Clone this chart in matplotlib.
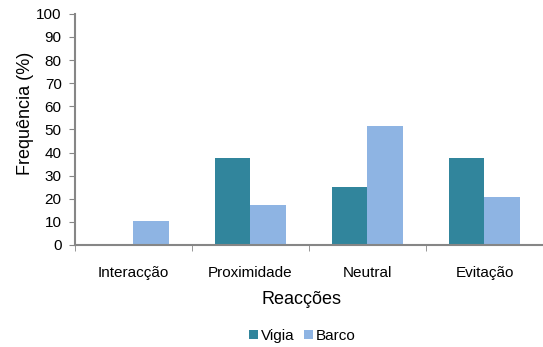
import numpy as np
import matplotlib.pyplot as plt

categorias = ['Interacção', 'Proximidade', 'Neutral', 'Evitação']
vigia = [0, 37.5, 25.0, 37.5]
barco = [10.4, 17.2, 51.7, 20.7]

plt.rcParams['font.family'] = ['Liberation Sans', 'DejaVu Sans']

fig = plt.figure(figsize=(5.43, 3.47), dpi=100)
ax = fig.add_axes([0.138, 0.294, 0.862, 0.666])

x = np.arange(len(categorias)) + 0.5
w = 0.3
ax.bar(x - w / 2, vigia, w, color='#31859C', label='Vigia')
ax.bar(x + w / 2, barco, w, color='#8EB4E3', label='Barco')

ax.set_xlim(0, len(categorias))
ax.set_ylim(0, 100)
ax.set_yticks(range(0, 101, 10))
ax.set_xticks(x)
ax.set_xticklabels(categorias, fontsize=11)
ax.set_xticks(range(len(categorias) + 1), minor=True)
ax.tick_params(axis='x', which='major', length=0, pad=15)
ax.tick_params(axis='x', which='minor', length=4, color='#868686', direction='out')
ax.tick_params(axis='y', length=4.5, color='#868686', labelsize=11, pad=5)

for s in ['top', 'right']:
    ax.spines[s].set_visible(False)
for s in ['left', 'bottom']:
    ax.spines[s].set_color('#868686')
    ax.spines[s].set_linewidth(1.5)

# eixo y: rótulo um pouco acima do centro, como no Excel
fig.text(25 / 543, 1 - 113 / 347, 'Frequência (%)', fontsize=13,
         rotation=90, ha='center', va='center')
ax.set_xlabel('Reacções', fontsize=13)
ax.xaxis.set_label_coords(0.483, -0.200)

fig.legend(loc='center', bbox_to_anchor=(302 / 543, 1 - 336 / 347), ncol=2, frameon=False,
           fontsize=11, handlelength=0.6, handleheight=0.6, handletextpad=0.2,
           columnspacing=0.6)

fig.savefig('out.png', dpi=100)
